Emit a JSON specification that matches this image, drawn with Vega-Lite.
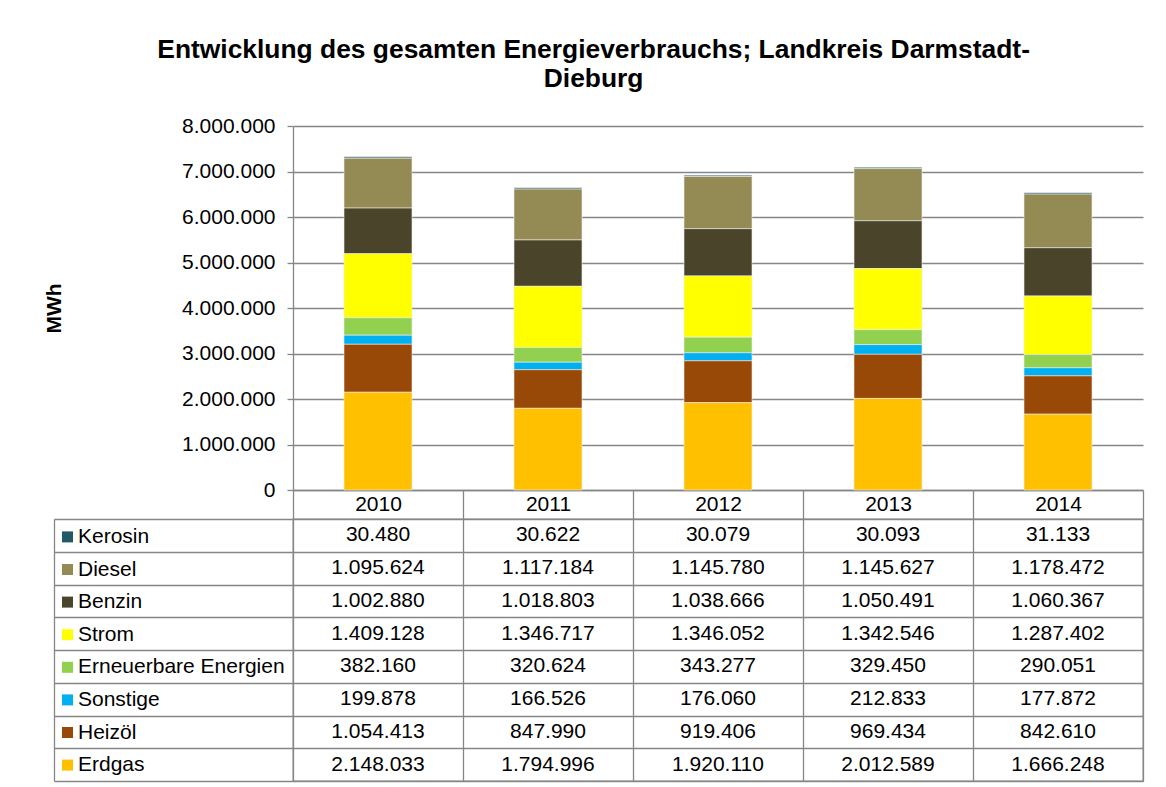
{
  "$schema": "https://vega.github.io/schema/vega-lite/v6.json",
  "padding": {"left": 43, "top": 36, "right": 20, "bottom": 5},
  "config": {
    "locale": {"number": {"decimal": ",", "thousands": ".", "grouping": [3], "currency": ["", " €"]}},
    "font": "Liberation Sans",
    "view": {"stroke": null}
  },
  "title": {
    "text": ["Entwicklung des gesamten Energieverbrauchs; Landkreis Darmstadt-", "Dieburg"],
    "fontSize": 26.4, "fontWeight": "bold", "font": "Liberation Sans", "color": "#000000",
    "lineHeight": 29, "anchor": "middle", "offset": 23
  },
  "datasets": {
    "energie": [
      {"Jahr": "2010", "Energie": "Kerosin", "MWh": 30480},
      {"Jahr": "2010", "Energie": "Diesel", "MWh": 1095624},
      {"Jahr": "2010", "Energie": "Benzin", "MWh": 1002880},
      {"Jahr": "2010", "Energie": "Strom", "MWh": 1409128},
      {"Jahr": "2010", "Energie": "Erneuerbare Energien", "MWh": 382160},
      {"Jahr": "2010", "Energie": "Sonstige", "MWh": 199878},
      {"Jahr": "2010", "Energie": "Heizöl", "MWh": 1054413},
      {"Jahr": "2010", "Energie": "Erdgas", "MWh": 2148033},
      {"Jahr": "2011", "Energie": "Kerosin", "MWh": 30622},
      {"Jahr": "2011", "Energie": "Diesel", "MWh": 1117184},
      {"Jahr": "2011", "Energie": "Benzin", "MWh": 1018803},
      {"Jahr": "2011", "Energie": "Strom", "MWh": 1346717},
      {"Jahr": "2011", "Energie": "Erneuerbare Energien", "MWh": 320624},
      {"Jahr": "2011", "Energie": "Sonstige", "MWh": 166526},
      {"Jahr": "2011", "Energie": "Heizöl", "MWh": 847990},
      {"Jahr": "2011", "Energie": "Erdgas", "MWh": 1794996},
      {"Jahr": "2012", "Energie": "Kerosin", "MWh": 30079},
      {"Jahr": "2012", "Energie": "Diesel", "MWh": 1145780},
      {"Jahr": "2012", "Energie": "Benzin", "MWh": 1038666},
      {"Jahr": "2012", "Energie": "Strom", "MWh": 1346052},
      {"Jahr": "2012", "Energie": "Erneuerbare Energien", "MWh": 343277},
      {"Jahr": "2012", "Energie": "Sonstige", "MWh": 176060},
      {"Jahr": "2012", "Energie": "Heizöl", "MWh": 919406},
      {"Jahr": "2012", "Energie": "Erdgas", "MWh": 1920110},
      {"Jahr": "2013", "Energie": "Kerosin", "MWh": 30093},
      {"Jahr": "2013", "Energie": "Diesel", "MWh": 1145627},
      {"Jahr": "2013", "Energie": "Benzin", "MWh": 1050491},
      {"Jahr": "2013", "Energie": "Strom", "MWh": 1342546},
      {"Jahr": "2013", "Energie": "Erneuerbare Energien", "MWh": 329450},
      {"Jahr": "2013", "Energie": "Sonstige", "MWh": 212833},
      {"Jahr": "2013", "Energie": "Heizöl", "MWh": 969434},
      {"Jahr": "2013", "Energie": "Erdgas", "MWh": 2012589},
      {"Jahr": "2014", "Energie": "Kerosin", "MWh": 31133},
      {"Jahr": "2014", "Energie": "Diesel", "MWh": 1178472},
      {"Jahr": "2014", "Energie": "Benzin", "MWh": 1060367},
      {"Jahr": "2014", "Energie": "Strom", "MWh": 1287402},
      {"Jahr": "2014", "Energie": "Erneuerbare Energien", "MWh": 290051},
      {"Jahr": "2014", "Energie": "Sonstige", "MWh": 177872},
      {"Jahr": "2014", "Energie": "Heizöl", "MWh": 842610},
      {"Jahr": "2014", "Energie": "Erdgas", "MWh": 1666248}
    ]
  },
  "spacing": 29,
  "bounds": "flush",
  "resolve": {"scale": {"x": "independent", "y": "independent"}},
  "vconcat": [
    {
      "width": 850,
      "height": 364,
      "data": {"name": "energie"},
      "transform": [
        {"calculate": "indexof(['Erdgas', 'Heizöl', 'Sonstige', 'Erneuerbare Energien', 'Strom', 'Benzin', 'Diesel', 'Kerosin'], datum.Energie)", "as": "Rang"}
      ],
      "mark": {"type": "bar", "stroke": "#eeeeee", "strokeWidth": 0.6, "width": {"band": 0.4}},
      "encoding": {
        "x": {
          "field": "Jahr", "type": "ordinal",
          "scale": {"paddingInner": 0, "paddingOuter": 0},
          "axis": {
            "title": null, "orient": "bottom", "labelAngle": 0, "labelFontSize": 21, "labelColor": "#000000",
            "labelFont": "Liberation Sans", "tickBand": "extent", "tickSize": 29, "tickColor": "#868686",
            "tickWidth": 1.3, "domainColor": "#868686", "domainWidth": 1.3,
            "labelBaseline": "middle", "labelPadding": -14.5, "grid": false
          }
        },
        "y": {
          "field": "MWh", "type": "quantitative", "stack": "zero",
          "scale": {"domain": [0, 8000000], "nice": false},
          "axis": {
            "title": "MWh", "titleFontSize": 21, "titleFontWeight": "bold", "titleColor": "#000000",
            "titleFont": "Liberation Sans", "titlePadding": 117,
            "values": [0, 1000000, 2000000, 3000000, 4000000, 5000000, 6000000, 7000000, 8000000],
            "format": ",d", "labelFontSize": 21, "labelColor": "#000000", "labelFont": "Liberation Sans",
            "labelPadding": 12, "tickSize": 6, "tickColor": "#868686", "tickWidth": 1.3,
            "domainColor": "#868686", "domainWidth": 1.3,
            "grid": true, "gridColor": "#868686", "gridWidth": 1.3
          }
        },
        "order": {"field": "Rang", "type": "quantitative", "sort": "ascending"},
        "color": {
          "field": "Energie", "type": "nominal",
          "scale": {
            "domain": ["Erdgas", "Heizöl", "Sonstige", "Erneuerbare Energien", "Strom", "Benzin", "Diesel", "Kerosin"],
            "range": ["#FFC000", "#984807", "#00B0F0", "#92D050", "#FFFF00", "#4A452A", "#948A54", "#215968"]
          },
          "legend": {
            "orient": "none", "legendX": -236, "legendY": 400.4, "title": null,
            "values": ["Kerosin", "Diesel", "Benzin", "Strom", "Erneuerbare Energien", "Sonstige", "Heizöl", "Erdgas"],
            "symbolType": "square", "symbolSize": 121, "symbolStrokeWidth": 0, "symbolOpacity": 1,
            "labelFontSize": 21, "labelColor": "#000000", "labelFont": "Liberation Sans",
            "labelOffset": 0, "labelLimit": 300, "rowPadding": 10.6, "padding": 0
          }
        }
      }
    },
    {
      "width": 850,
      "height": 262,
      "view": {"stroke": "#868686", "strokeWidth": 1.3},
      "data": {"name": "energie"},
      "mark": {"type": "text", "fontSize": 21, "color": "#000000", "font": "Liberation Sans"},
      "encoding": {
        "x": {
          "field": "Jahr", "type": "ordinal",
          "scale": {"paddingInner": 0, "paddingOuter": 0},
          "axis": {"title": null, "labels": false, "ticks": false, "domain": false, "grid": true, "tickBand": "extent", "gridColor": "#868686", "gridWidth": 1.3}
        },
        "y": {
          "field": "Energie", "type": "nominal",
          "sort": ["Kerosin", "Diesel", "Benzin", "Strom", "Erneuerbare Energien", "Sonstige", "Heizöl", "Erdgas"],
          "scale": {"paddingInner": 0, "paddingOuter": 0},
          "axis": {
            "title": null, "labels": false, "offset": 239, "tickSize": -239, "tickBand": "extent",
            "tickColor": "#868686", "tickWidth": 1.3, "domainColor": "#868686", "domainWidth": 1.3,
            "grid": true, "gridColor": "#868686", "gridWidth": 1.3
          }
        },
        "text": {"field": "MWh", "type": "quantitative", "format": ",d"}
      }
    }
  ]
}
